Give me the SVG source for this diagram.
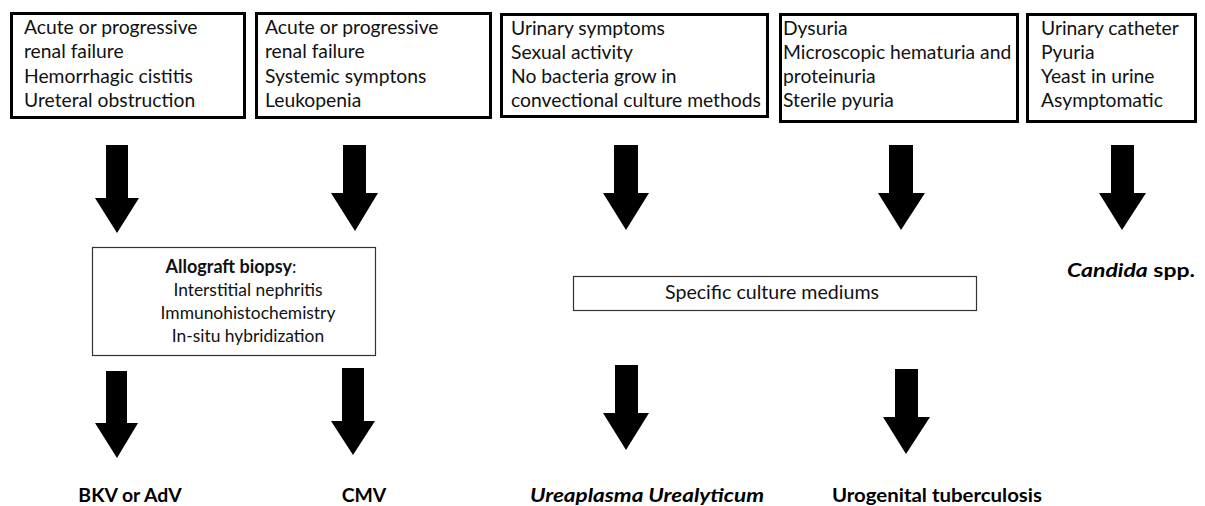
<svg xmlns="http://www.w3.org/2000/svg" width="1205" height="506" viewBox="0 0 1205 506">
<style>
.box{fill:#fff;stroke:#000;stroke-width:3}
.inner{fill:#fff;stroke:#333;stroke-width:1.2}
.t{font-family:Lato,"Liberation Sans",sans-serif;font-size:19.3px;fill:#111}
.ti{font-family:Lato,"Liberation Sans",sans-serif;font-size:17.4px;fill:#111}
.tc{font-family:Lato,"Liberation Sans",sans-serif;font-size:19.6px;fill:#111}
.c{text-anchor:middle}
.b{font-weight:bold}
.lbl{font-family:Lato,"Liberation Sans",sans-serif;font-size:19.4px;font-weight:bold;fill:#000;text-anchor:middle}
.arrow{fill:#000}
</style>
<rect width="1205" height="506" fill="#fff"/>
<g id="box1">
<rect class="box" x="11.5" y="13.5" width="233" height="104"/>
<text class="t" x="24" y="34">Acute or progressive</text>
<text class="t" x="24" y="58.3">renal failure</text>
<text class="t" x="24" y="82.6">Hemorrhagic cistitis</text>
<text class="t" x="24" y="107">Ureteral obstruction</text>
</g>
<g id="box2">
<rect class="box" x="256.5" y="13.5" width="234" height="104"/>
<text class="t" x="265" y="34">Acute or progressive</text>
<text class="t" x="265" y="58.3">renal failure</text>
<text class="t" x="265" y="82.6">Systemic symptons</text>
<text class="t" x="265" y="107">Leukopenia</text>
</g>
<g id="box3">
<rect class="box" x="501.5" y="14.5" width="266" height="102"/>
<text class="t" x="511" y="35">Urinary symptoms</text>
<text class="t" x="511" y="59">Sexual activity</text>
<text class="t" x="511" y="83">No bacteria grow in</text>
<text class="t" x="511" y="107">convectional culture methods</text>
</g>
<g id="box4">
<rect class="box" x="780.5" y="14.5" width="237" height="107"/>
<text class="t" x="783" y="35">Dysuria</text>
<text class="t" x="783" y="59">Microscopic hematuria and</text>
<text class="t" x="783" y="83">proteinuria</text>
<text class="t" x="783" y="107">Sterile pyuria</text>
</g>
<g id="box5">
<rect class="box" x="1027.5" y="14.5" width="168" height="107"/>
<text class="t" x="1041" y="35">Urinary catheter</text>
<text class="t" x="1041" y="59">Pyuria</text>
<text class="t" x="1041" y="83">Yeast in urine</text>
<text class="t" x="1041" y="107">Asymptomatic</text>
</g>
<g id="biopsy">
<rect class="inner" x="92.5" y="247.5" width="283" height="108"/>
<text class="ti c" x="231" y="273"><tspan class="b" font-size="18px">Allograft biopsy</tspan>:</text>
<text class="ti c" x="248" y="296">Interstitial nephritis</text>
<text class="ti c" x="248" y="319">Immunohistochemistry</text>
<text class="ti c" x="248" y="342">In-situ hybridization</text>
</g>
<g id="culture">
<rect class="inner" x="573.5" y="276.5" width="403" height="34"/>
<text class="tc c" x="772" y="299">Specific culture mediums</text>
</g>
<g id="candida">
<text class="lbl" x="1131" y="277" font-size="20px" textLength="128" lengthAdjust="spacingAndGlyphs"><tspan font-style="italic">Candida</tspan> spp.</text>
</g>
<g id="bkv"><text class="lbl" x="130" y="502">BKV or AdV</text></g>
<g id="cmv"><text class="lbl" x="364" y="502">CMV</text></g>
<g id="urea"><text class="lbl" x="647" y="502" font-style="italic" font-size="20.5px" textLength="234" lengthAdjust="spacingAndGlyphs">Ureaplasma Urealyticum</text></g>
<g id="tb"><text class="lbl" x="937" y="502" font-size="20px" textLength="210" lengthAdjust="spacingAndGlyphs">Urogenital tuberculosis</text></g>
<g id="connectors">
<path class="arrow" d="M106,145H128V198H139L117,233L95,198H106Z"/>
<path class="arrow" d="M343,145H366V193H378L355,231L331,193H343Z"/>
<path class="arrow" d="M614,145H638V193H649L626,230L603,193H614Z"/>
<path class="arrow" d="M889,145H913V193H925L901,230L878,193H889Z"/>
<path class="arrow" d="M1111,145H1134V193H1146L1122,230L1099,193H1111Z"/>
<path class="arrow" d="M106,371H127V423H138L117,458L95,423H106Z"/>
<path class="arrow" d="M342,368H364V421H375L353,455L331,421H342Z"/>
<path class="arrow" d="M615,365H638V413H649L626,450L603,413H615Z"/>
<path class="arrow" d="M895,369H918V417H930L906,454L883,417H895Z"/>
</g>
</svg>
